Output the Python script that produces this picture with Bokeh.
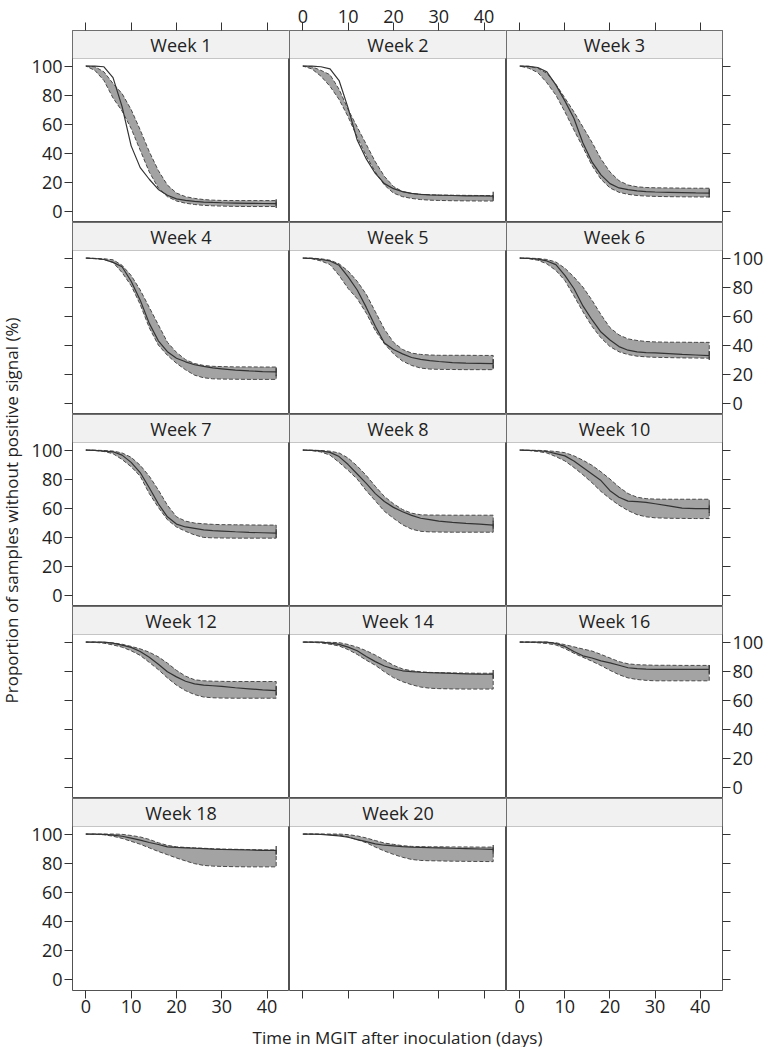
import math
from bokeh.plotting import figure
from bokeh.layouts import column, row
from bokeh.models import LinearAxis, FixedTicker, Range1d, BoxAnnotation, CustomJSTickFormatter
from bokeh.core.properties import value
from bokeh.embed import file_html
from bokeh.resources import INLINE

FONT = "Open Sans"

# ---------------- data ----------------
DAYS = [0, 2, 4, 6, 8, 10, 12, 14, 16, 18, 20, 22, 24, 26, 28, 30, 33, 36, 39, 42]
X_TICKS = [0, 10, 20, 30, 40]
Y_TICKS = [0, 20, 40, 60, 80, 100]
WEEKS = ["Week 1", "Week 2", "Week 3", "Week 4", "Week 5", "Week 6", "Week 7",
         "Week 8", "Week 10", "Week 12", "Week 14", "Week 16", "Week 18", "Week 20"]
X_TITLE = "Time in MGIT after inoculation (days)"
Y_TITLE = "Proportion of samples without positive signal (%)"

W1_OBS = [100, 100, 99.5, 92, 72, 45, 30, 22, 15, 11, 8.5, 7.5, 6.8, 6.3, 6, 5.8, 5.6, 5.4, 5.3, 5.2]
W1_UP = [100, 99.5, 96, 88, 81, 70, 56, 41, 28, 18, 12.5, 10, 8.8, 8, 7.6, 7.4, 7.3, 7.3, 7.3, 7.3]
W1_LO = [100, 97, 90, 78, 69, 57, 42, 27, 16, 10, 7, 5.5, 4.6, 4, 3.7, 3.5, 3.3, 3.2, 3.2, 3.2]

W2_OBS = [100, 100, 99.5, 98, 90, 71, 49, 36, 26, 19, 15.5, 13.5, 12.3, 11.6, 11.2, 11, 10.8, 10.6, 10.5, 10.4]
W2_UP = [100, 99.5, 97, 94, 84, 70, 58, 46, 34, 24, 17, 13.5, 12.2, 11.6, 11.3, 11.1, 11, 10.9, 10.8, 10.8]
W2_LO = [100, 98, 93, 86, 77, 65, 51, 38, 27, 18, 12.5, 10, 8.8, 8, 7.6, 7.4, 7.2, 7.1, 7, 7]

W3_OBS = [100, 99.8, 99, 96, 87, 76, 64, 47, 34, 25, 19, 16, 14.8, 14, 13.5, 13.2, 13, 12.8, 12.6, 12.5]
W3_UP = [100, 99.8, 98.5, 95, 87.5, 78, 68.5, 58, 47.5, 36, 27, 21, 18, 16.8, 16.3, 16.1, 16, 15.9, 15.8, 15.8]
W3_LO = [100, 98.5, 95.5, 88.5, 80, 68.5, 56, 44, 31.5, 22, 16, 13, 11.6, 10.8, 10.4, 10.2, 10, 9.9, 9.8, 9.8]

W4_OBS = [100, 99.7, 99, 97, 94, 84, 71, 55, 43, 35.5, 31, 28.5, 26.5, 25.3, 24.3, 23.7, 22.8, 22.2, 21.8, 21.6]
W4_UP = [100, 99.8, 99.5, 98.8, 95, 88, 78, 66, 54, 42, 35, 30, 27.3, 26, 25.4, 25.2, 25, 25, 24.9, 24.9]
W4_LO = [100, 99.5, 99, 97, 90, 81, 68, 52, 40, 33, 27.5, 23, 19.3, 17.5, 16.8, 16.6, 16.5, 16.4, 16.4, 16.4]

W5_OBS = [100, 99.8, 99, 98, 95, 87, 78, 66, 53, 41.5, 37, 34, 31.5, 30.2, 29.3, 28.7, 28, 27.6, 27.4, 27.2]
W5_UP = [100, 99.9, 99.5, 98.5, 96, 91, 84, 75, 63, 51, 42, 37, 34.5, 33.6, 33.2, 33, 33, 33, 32.9, 32.9]
W5_LO = [100, 99.5, 98, 95.5, 88, 79, 72, 62, 50, 41, 34, 29, 26, 24.2, 23.5, 23.3, 23.2, 23.1, 23.1, 23.1]

W6_OBS = [100, 99.8, 99.3, 98, 95.5, 88, 79, 67, 57.5, 49, 43.5, 39, 36.5, 35.4, 34.9, 34.6, 34.1, 33.6, 33.2, 32.7]
W6_UP = [100, 99.9, 99.7, 99, 97.3, 93, 87, 80, 71, 61, 52, 47, 44.3, 43.2, 42.5, 42.2, 42, 42, 41.9, 41.9]
W6_LO = [100, 99.6, 98.5, 96, 91.5, 84.5, 74, 63, 53, 45, 39, 35.4, 33.5, 32.4, 31.9, 31.6, 31.4, 31.2, 31.1, 31]

W7_OBS = [100, 99.8, 99.3, 98.8, 96.5, 91.5, 84.5, 74, 63, 54, 49, 47, 46, 45, 44.5, 44.2, 43.7, 43.3, 43, 42.7]
W7_UP = [100, 99.9, 99.7, 99.3, 98, 95, 89.5, 82, 72.5, 62, 54, 51, 49.7, 49.2, 48.8, 48.6, 48.5, 48.4, 48.3, 48.3]
W7_LO = [100, 99.7, 99, 97.5, 93.5, 88.5, 82, 70, 60.5, 52, 47, 44, 41.5, 39.8, 39.5, 39.4, 39.3, 39.3, 39.3, 39.3]

W8_OBS = [100, 99.8, 99.4, 98.4, 95.5, 90, 83.5, 77, 70, 64.5, 60.5, 57.5, 55, 53, 52, 51, 50.2, 49.5, 48.9, 48.3]
W8_UP = [100, 99.9, 99.7, 99.2, 98, 94.5, 89, 82.5, 75, 68, 63, 59, 56.5, 55.4, 55.2, 55.2, 55.1, 55.1, 55.1, 55.1]
W8_LO = [100, 99.6, 98.7, 96.5, 91.5, 86, 80, 72, 65, 57.8, 53, 48.5, 45.5, 44, 43.6, 43.5, 43.4, 43.4, 43.4, 43.4]

W10_OBS = [100, 99.8, 99.5, 99, 97.5, 96, 92.5, 88, 83.5, 79, 72, 67.5, 64.8, 64.5, 64, 63, 61.5, 60, 59.6, 59.6]
W10_UP = [100, 99.9, 99.8, 99.5, 99, 98.2, 96, 93, 89.5, 85, 80, 74.5, 70, 67.5, 66.5, 66.2, 66.1, 66.1, 66.1, 66.1]
W10_LO = [100, 99.7, 99, 98, 95.5, 92.5, 88, 83, 77.5, 71.5, 66.5, 62, 58.3, 55.5, 54, 53.3, 53, 52.9, 52.8, 52.8]

W12_OBS = [100, 100, 99.9, 99.2, 97.9, 96.3, 93.5, 89.5, 84.7, 79.5, 76, 73, 71.2, 70.3, 69.9, 69.5, 68.5, 67.8, 67.1, 66.5]
W12_UP = [100, 100, 99.8, 99.4, 98.5, 97, 95.3, 93, 89.8, 85.5, 80.5, 76.5, 74, 73.3, 73, 72.9, 72.8, 72.8, 72.8, 72.8]
W12_LO = [100, 99.8, 99.2, 98, 96.5, 94, 90.8, 86, 81, 75.3, 70.3, 66.5, 63.8, 62.1, 61.6, 61.4, 61.3, 61.3, 61.3, 61.3]

W14_OBS = [100, 100, 99.9, 99.3, 98.4, 96.5, 94, 90, 86.5, 83.5, 81.5, 80.2, 79.6, 79.2, 78.9, 78.7, 78.4, 78.1, 77.9, 77.8]
W14_UP = [100, 100, 99.9, 99.8, 99.6, 98.3, 96.5, 94, 91, 87.5, 84, 81.5, 80.2, 79.5, 79.1, 78.9, 78.7, 78.6, 78.5, 78.5]
W14_LO = [100, 99.8, 99.4, 98.5, 97.3, 94.8, 91.5, 87.5, 84, 79.5, 75.5, 72.7, 70.6, 69, 68.2, 67.9, 67.7, 67.6, 67.6, 67.6]

W16_OBS = [100, 100, 100, 99.9, 99, 97, 93.5, 90.5, 89, 87, 85.6, 84, 82.3, 81.7, 81.4, 81.2, 81.2, 81.2, 81.2, 81.2]
W16_UP = [100, 100, 100, 99.9, 99.5, 98.2, 96.7, 95.2, 93.8, 91.5, 89, 86.5, 85, 84.4, 84.2, 84, 84, 83.9, 83.9, 83.9]
W16_LO = [100, 99.9, 99.5, 99, 98, 95.5, 92.3, 89.5, 86.8, 83.8, 80.5, 77.5, 75.3, 74.2, 73.6, 73.3, 73.3, 73.3, 73.3, 73.3]

W18_OBS = [100, 100, 99.8, 99.3, 98.5, 97.2, 95.8, 94.2, 92.8, 91.2, 90.8, 90.5, 90.2, 89.9, 89.6, 89.4, 89.2, 89, 88.8, 88.7]
W18_UP = [100, 100, 100, 100, 99.8, 99, 98, 96.3, 94, 92.2, 91.2, 90.8, 90.5, 90.2, 89.9, 89.7, 89.5, 89.3, 89.1, 89]
W18_LO = [100, 99.8, 99.5, 98.5, 97, 95, 93, 90.5, 88, 85.8, 83.5, 81.5, 79.6, 78.4, 77.9, 77.7, 77.5, 77.4, 77.4, 77.4]

W20_OBS = [100, 100, 99.8, 99.3, 98.8, 97.8, 96.2, 94.8, 93.2, 92.3, 91.8, 91.3, 91, 90.8, 90.6, 90.5, 90.2, 90, 89.7, 89.4]
W20_UP = [100, 100, 100, 100, 100, 99.6, 98.7, 97.3, 95.5, 93.8, 92.9, 92, 91.5, 91.3, 91.2, 91.2, 91.1, 91.1, 91, 91]
W20_LO = [100, 99.9, 99.8, 99.6, 99.3, 98, 96.2, 94, 91, 88.3, 86, 84, 82.5, 81.8, 81.6, 81.5, 81.3, 81.2, 81.1, 81]

SERIES = [
    (W1_OBS, W1_LO, W1_UP), (W2_OBS, W2_LO, W2_UP), (W3_OBS, W3_LO, W3_UP),
    (W4_OBS, W4_LO, W4_UP), (W5_OBS, W5_LO, W5_UP), (W6_OBS, W6_LO, W6_UP),
    (W7_OBS, W7_LO, W7_UP), (W8_OBS, W8_LO, W8_UP), (W10_OBS, W10_LO, W10_UP),
    (W12_OBS, W12_LO, W12_UP), (W14_OBS, W14_LO, W14_UP), (W16_OBS, W16_LO, W16_UP),
    (W18_OBS, W18_LO, W18_UP), (W20_OBS, W20_LO, W20_UP),
]

# ---------------- layout / style ----------------
NROW, NCOL = 5, 3
COLW = [217, 217, 216]
STRIP_H = 28
PANEL_H = 164
YLAB_W = 24
XLAB_H = 23
LEFT_B, RIGHT_B, TOP_B, BOT_B = 48, 45, 30, 34
X0, X1 = -2.94, 44.94
Y0, YP = -7.8, 105.2
Y1 = YP + STRIP_H * (YP - Y0) / PANEL_H
TICK_LEN = 8
TXT = "#222222"
EDGE = "#262626"
EMPTY = CustomJSTickFormatter(code="return ''")


def make_axis(ticks, labels, standoff=2):
    ax = LinearAxis(ticker=FixedTicker(ticks=ticks))
    ax.axis_line_color = None
    ax.major_tick_out = TICK_LEN
    ax.major_tick_in = 0
    ax.major_tick_line_color = "#333333"
    ax.minor_tick_line_color = None
    ax.major_label_standoff = standoff
    ax.major_label_text_font = FONT
    ax.major_label_text_font_size = "18px"
    ax.major_label_text_color = TXT
    if not labels:
        ax.formatter = EMPTY
    return ax


def bare_fig(w, h, xr, yr):
    f = figure(width=w, height=h, x_range=xr, y_range=yr, x_axis_type=None,
               y_axis_type=None, toolbar_location=None, output_backend="svg")
    f.min_border = 0
    f.min_border_left = f.min_border_right = f.min_border_top = f.min_border_bottom = 0
    f.outline_line_color = None
    f.background_fill_color = None
    f.border_fill_color = None
    return f


rows = []
grid_w = 0
for r in range(NROW):
    figs = []
    for c in range(NCOL):
        idx = r * NCOL + c
        w = COLW[c] + (LEFT_B if c == 0 else 0) + (RIGHT_B if c == NCOL - 1 else 0)
        h = STRIP_H + PANEL_H + (TOP_B if r == 0 else 0) + (BOT_B if r == NROW - 1 else 0)
        p = figure(width=w, height=h, x_range=Range1d(X0, X1), y_range=Range1d(Y0, Y1),
                   x_axis_type=None, y_axis_type=None, toolbar_location=None,
                   output_backend="svg")
        p.min_border = 0
        p.min_border_left = LEFT_B if c == 0 else 0
        p.min_border_right = RIGHT_B if c == NCOL - 1 else 0
        p.min_border_top = TOP_B if r == 0 else 0
        p.min_border_bottom = BOT_B if r == NROW - 1 else 0
        p.outline_line_color = EDGE
        p.outline_line_width = 0.8
        p.background_fill_color = "white"
        p.border_fill_color = "white"

        # strip (lattice-style panel header)
        p.add_layout(BoxAnnotation(bottom=YP, fill_color="#f1f1f1", fill_alpha=1,
                                   line_color=EDGE, line_width=0.8, level="underlay"))
        if idx < len(WEEKS):
            p.text(x=[(X0 + X1) / 2], y=[(YP + Y1) / 2], text=[WEEKS[idx]],
                   text_align="center", text_baseline="middle",
                   text_font=value(FONT), text_font_size="18px", text_color=TXT)
            obs, lo, up = SERIES[idx]
            p.patch(DAYS + DAYS[::-1], up + lo[::-1], fill_color="#a3a3a3", fill_alpha=1,
                    line_color="#4a4a4a", line_dash="4 2", line_width=1)
            p.line(DAYS, obs, line_color="#333333", line_width=1.2)
            p.segment(x0=[DAYS[-1]], y0=[obs[-1] - 3], x1=[DAYS[-1]], y1=[obs[-1] + 3],
                      line_color="#333333", line_width=1.2)

        # axes (alternating labels, lattice style)
        if c == 0:
            p.add_layout(make_axis(Y_TICKS, r % 2 == 0), "left")
        if c == NCOL - 1:
            p.add_layout(make_axis(Y_TICKS, r % 2 == 1), "right")
        if r == 0:
            p.add_layout(make_axis(X_TICKS, c == 1, standoff=0), "above")
        if r == NROW - 1:
            p.add_layout(make_axis(X_TICKS, c != 1, standoff=1), "below")
        figs.append(p)
    if r == 0:
        grid_w = sum(f.width for f in figs)
    rows.append(row(*figs))

grid_h = NROW * (STRIP_H + PANEL_H) + TOP_B + BOT_B
total_h = grid_h + XLAB_H

# x-axis title, centred under the panel grid
xlab = bare_fig(grid_w, XLAB_H, Range1d(0, grid_w), Range1d(0, XLAB_H))
xlab.text(x=[LEFT_B + sum(COLW) / 2], y=[XLAB_H / 2 - 1], text=[X_TITLE],
          text_align="center", text_baseline="middle",
          text_font=value(FONT), text_font_size="17px", text_color=TXT)

# y-axis title, centred on the panel grid
ylab = bare_fig(YLAB_W, total_h, Range1d(0, YLAB_W), Range1d(0, total_h))
ylab.text(x=[YLAB_W / 2 - 1], y=[total_h - TOP_B - NROW * (STRIP_H + PANEL_H) / 2],
          text=[Y_TITLE], angle=math.pi / 2, text_align="center", text_baseline="middle",
          text_font=value(FONT), text_font_size="17px", text_color=TXT)

layout = row(ylab, column(*rows, xlab))
open("out.html", "w").write(file_html(layout, INLINE))
